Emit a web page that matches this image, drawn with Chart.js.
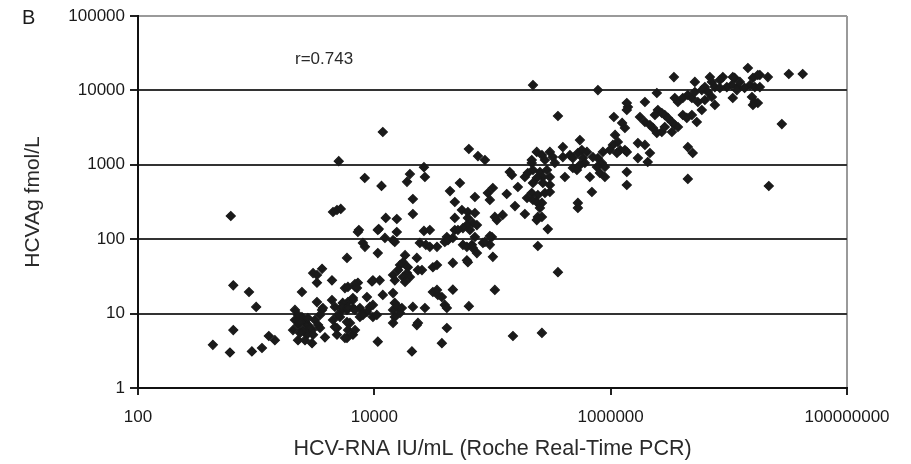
<!DOCTYPE html>
<html>
<head>
<meta charset="utf-8">
<script src="https://cdn.jsdelivr.net/npm/chart.js@4.4.1/dist/chart.umd.min.js"></script>
<style>
    html, body { margin: 0; padding: 0; background: #fff; }
    #wrap { width: 911px; height: 464px; position: relative; }
</style>
</head>
<body>
<div id="wrap"><canvas id="chartScatter"></canvas></div>
<script>
'use strict'

// HCV-RNA (IU/mL)
var hcvRna = [
    430, 600, 640, 640, 610, 870, 1000, 920, 1120, 1280, 1440, 2130, 2440, 2130, 2260, 2050, 2260,
    2440, 2590, 2740, 2970, 2690, 3140, 3340, 2970, 3470, 3610, 3270, 3670, 3030, 3610, 3270, 4380,
    3820, 2850, 2490, 2350, 2740, 4830, 4830, 5870, 6590, 6220, 4470, 5120, 5870, 6590, 7550, 7550,
    8010, 8660, 5980, 6590, 7260, 6860, 8660, 9180, 9730, 10500, 10700, 9550, 11100, 11800, 14400,
    14900, 14400, 14900, 14400, 15900, 16500, 17100, 21200, 26800, 22900, 20800, 31300, 34500, 39500,
    41100, 41100, 37300, 31300, 46200, 46200, 22900, 25300, 2350, 3030, 2590, 3470, 2260, 5640, 3270,
    4380, 4640, 5320, 4920, 5400, 4640,
    5000, 11800, 8300, 11500, 20000, 18900, 26300, 26800, 21200, 21200, 12500, 15500, 7400, 10900,
    15500, 26300, 29500, 43700, 48000, 48000, 41100, 48000, 53000, 4470, 4830, 5200, 8000, 8330,
    12300, 14900, 24300, 27300, 29500, 5870, 10700, 18200, 17500, 16500, 15900, 18900, 19200, 17500,
    18200, 14400, 14900, 20000, 23400, 9730, 5980, 6860, 7130, 9730, 6590, 5320, 5980, 6860, 8010,
    5870, 5980, 6860, 5640, 23400, 7260, 10700, 14400,
    39500, 42000, 46200, 56200, 60700, 67000, 68200, 73800, 83000, 95000, 98900, 100700, 60700,
    37300, 63100, 104700, 149000, 262000, 242000, 294000, 358000, 68200, 109000, 237000,
    63100, 75300, 86300, 140000, 146000, 188000, 199000, 215000, 71000, 91400, 100700, 95000, 132000,
    164000, 155000, 188000, 196000, 215000, 220000, 55100, 61900, 71000, 61900, 73800, 60700, 56200,
    51000, 64400, 71000, 104700, 122000, 33900, 86300, 95000, 33900, 61900, 33900,
    220000, 780000, 358000, 1065000, 1400000, 1370000, 1950000, 2460000, 3430000, 5160000, 6910000,
    8900000, 11200000, 14500000, 18300000, 21400000, 32200000, 42200000, 28100000, 21800000, 4500000,
    4500000, 4950000,
    1370000, 1250000, 1320000, 549000, 394000, 1090000, 1150000, 1045000, 985000, 860000, 1200000,
    1320000, 1130000, 1370000, 1370000, 237000, 262000, 306000, 324000, 215000, 278000, 337000,
    394000, 452000, 479000, 528000, 570000, 582000, 605000, 549000, 479000, 518000, 780000, 843000,
    894000, 765000, 811000, 894000, 667000, 220000, 252000, 289000, 306000, 267000, 237000, 220000,
    267000, 306000, 242000, 278000, 306000, 237000, 262000, 252000, 242000, 262000, 410000, 694000,
    528000, 528000,
    6270000, 7190000, 8400000, 7620000, 3490000, 3710000, 4080000, 4500000, 4870000, 5160000, 5910000,
    6650000, 7190000, 6270000, 5470000, 7620000, 2510000, 2710000, 2370000, 2870000, 3050000, 3300000,
    3490000, 3710000, 1770000, 1950000, 2150000, 2280000, 2460000, 2710000, 3300000, 2870000, 4080000,
    4410000, 4870000, 5360000, 5910000, 1700000, 1950000, 2150000, 1370000, 1700000, 2060000,
    10800000, 9620000, 10600000, 11900000, 8400000, 11700000, 10800000, 16000000, 17600000, 15100000,
    16600000, 18300000, 15700000, 16600000, 17600000, 16000000, 12400000, 13600000, 630000, 707000
];

// HCVAg (fmol/L), same order as hcvRna
var hcvAg = [
    3.8, 3.0, 6.0, 24, 205, 19.5, 12.3, 3.1, 3.45, 5.0, 4.4, 11.2, 19.5, 8.2, 7.0, 6.0, 4.4,
    9.0, 7.7, 7.0, 6.0, 5.2, 8.2, 7.0, 4.0, 9.6, 11.2, 14.3, 11.9, 35, 40, 26, 28,
    4.8, 6.4, 6.0, 5.5, 8.7, 6.4, 5.2, 4.7, 5.2, 7.5, 8.2, 9.0, 11.2, 11.9, 11.9, 9.0,
    10.2, 10.5, 14.3, 15.2, 26, 23, 16.7, 12.3, 9.0, 9.6, 4.2, 27, 28, 17.8, 18.9,
    13.9, 11.2, 9.0, 7.5, 12.3, 10.2, 11.9, 12.3, 11.9, 7.0, 3.1, 19.5, 17.8, 13.1,
    11.9, 6.4, 4.0, 42, 48, 21, 56, 38.5, 7.7, 5.2, 4.4, 6.4, 9.6, 22, 33,
    15.2, 12.3, 11.2, 9.6, 13.9, 6.6,
    1120, 2760, 665, 520, 750, 590, 930, 685, 347, 218, 193, 187, 133, 137,
    125, 129, 133, 444, 316, 193, 107, 133, 569, 232, 247, 255, 89, 79,
    104, 92, 89, 84, 79, 56, 65, 61, 49, 45, 38.5, 35, 42, 31,
    26.6, 33, 28, 31, 38.5, 28, 22.8, 25, 22, 13.1, 16.2, 12.3, 11.9, 11.2, 9.6,
    7.7, 6.0, 6.0, 4.7, 7.5, 125, 133, 97,
    92, 97, 104, 84, 79, 84, 76, 65, 89, 84, 107, 58, 52,
    16.7, 12.6, 20.8, 5.0, 5.5, 81, 137, 36, 165, 181, 181,
    1630, 1310, 1160, 800, 729, 685, 776, 1060, 369, 418, 488, 337, 405,
    503, 279, 218, 358, 418, 337, 247, 232, 225, 193, 155, 155, 141,
    133, 133, 107, 199, 212, 79, 92, 110, 45, 49, 20.8,
    11800, 10100, 4530, 4390, 5980, 5450, 6980, 9230, 15100, 13000, 15100,
    15100, 14700, 20000, 16100, 15100, 16600, 16600, 3530, 519, 645,
    1730, 1440,
    6770, 3650, 3130, 2150, 1730, 2520, 2030, 1850, 1580, 1490, 1580,
    1580, 1440, 800, 535, 1490, 1350, 1490, 1270, 1160, 1160, 1060,
    1270, 1350, 1230, 1440, 1580, 1230, 1060, 993, 905, 851, 1230, 1060,
    934, 934, 776, 685, 685, 851, 800, 851, 685, 685, 665, 569,
    569, 535, 393, 418, 431, 316, 307, 263, 199, 199, 685, 431,
    307, 263,
    11100, 13000, 13800, 11100, 7900, 6980, 7900, 8670, 7900, 9510, 10100,
    9510, 8150, 7430, 6980, 6370, 5450, 4970, 4670, 4670, 4260, 3760,
    3430, 3220, 4390, 3760, 3430, 3130, 2680, 2760, 2760, 3220, 4670,
    4260, 4670, 3760, 5450, 1960, 1850, 1440, 1490, 1230, 1090,
    15100, 11100, 11800, 11100, 10800, 10100, 7900, 14700, 16100, 11800,
    11100, 11100, 8150, 6980, 6770, 6370, 13000, 10800, 1490, 1270
];

var xTicks = [100, 10000, 1000000, 100000000];
var yTicks = [1, 10, 100, 1000, 10000, 100000];
var xTitle = 'HCV-RNA IU/mL (Roche Real-Time PCR)';
var yTitle = 'HCVAg fmol/L';
var panelLabel = 'B';
var corrLabel = 'r=0.743';

var points = hcvRna.map(function(x, i) {
    return { x: x, y: hcvAg[i] };
});

var fontFamily = '"Liberation Sans", Arial, sans-serif';

// panel letter and r value
var textPlugin = {
    id: 'extraText',
    afterDraw: function(chart) {
        var ctx = chart.ctx;
        var area = chart.chartArea;
        ctx.save();
        ctx.fillStyle = '#1a1a1a';
        ctx.textBaseline = 'middle';
        ctx.font = '20px ' + fontFamily;
        ctx.fillText(panelLabel, 22, 18);
        ctx.font = '17px ' + fontFamily;
        ctx.fillStyle = '#2a2a2a';
        ctx.fillText(corrLabel, area.left + 157, area.top + 43);
        ctx.restore();
    }
};

var ctxScatter = document.getElementById('chartScatter');
var myScatter = new Chart(ctxScatter, {
    type: 'scatter',
    data: {
        datasets: [{
            data: points,
            pointStyle: 'rectRot',
            pointRadius: 4.5,
            borderWidth: 1.2,
            backgroundColor: '#1a1a1a',
            borderColor: '#1a1a1a'
        }]
    },
    options: {
        maintainAspectRatio: false,
        responsive: true,
        animation: false,
        layout: { padding: { top: 16, right: 64, left: 0, bottom: 0 } },
        plugins: {
            legend: { display: false },
            tooltip: { enabled: false }
        },
        scales: {
            x: {
                type: 'logarithmic',
                min: 100,
                max: 100000000,
                afterFit: function(s) { s.height = 76; },
                afterBuildTicks: function(s) {
                    s.ticks = xTicks.map(function(v) { return { value: v }; });
                },
                border: { color: '#111', width: 2 },
                grid: {
                    color: function(c) {
                        return c.tick && c.tick.value === 100000000 ? '#9a9a9a' : 'rgba(0,0,0,0)';
                    },
                    lineWidth: 2,
                    tickColor: '#222',
                    tickLength: 7
                },
                ticks: {
                    autoSkip: false,
                    maxRotation: 0,
                    padding: 12,
                    color: '#1a1a1a',
                    font: { family: fontFamily, size: 17 },
                    callback: function(v) { return String(v); }
                },
                title: {
                    display: true,
                    text: xTitle,
                    color: '#2a2a2a',
                    font: { family: fontFamily, size: 21.5 },
                    padding: { top: 0, bottom: 2 }
                }
            },
            y: {
                type: 'logarithmic',
                min: 1,
                max: 100000,
                afterFit: function(s) { s.width = 138; },
                afterBuildTicks: function(s) {
                    s.ticks = yTicks.map(function(v) { return { value: v }; });
                },
                border: { color: '#111', width: 2 },
                grid: {
                    color: function(c) {
                        return c.tick && c.tick.value === 100000 ? '#9a9a9a' : '#333';
                    },
                    lineWidth: 2,
                    tickColor: '#222',
                    tickLength: 8
                },
                ticks: {
                    autoSkip: false,
                    padding: 5,
                    color: '#1a1a1a',
                    font: { family: fontFamily, size: 17 },
                    callback: function(v) { return String(v); }
                },
                title: {
                    display: true,
                    text: yTitle,
                    color: '#2a2a2a',
                    font: { family: fontFamily, size: 21 },
                    padding: { top: 21, bottom: 0 }
                }
            }
        }
    },
    plugins: [textPlugin]
});
</script>
</body>
</html>
